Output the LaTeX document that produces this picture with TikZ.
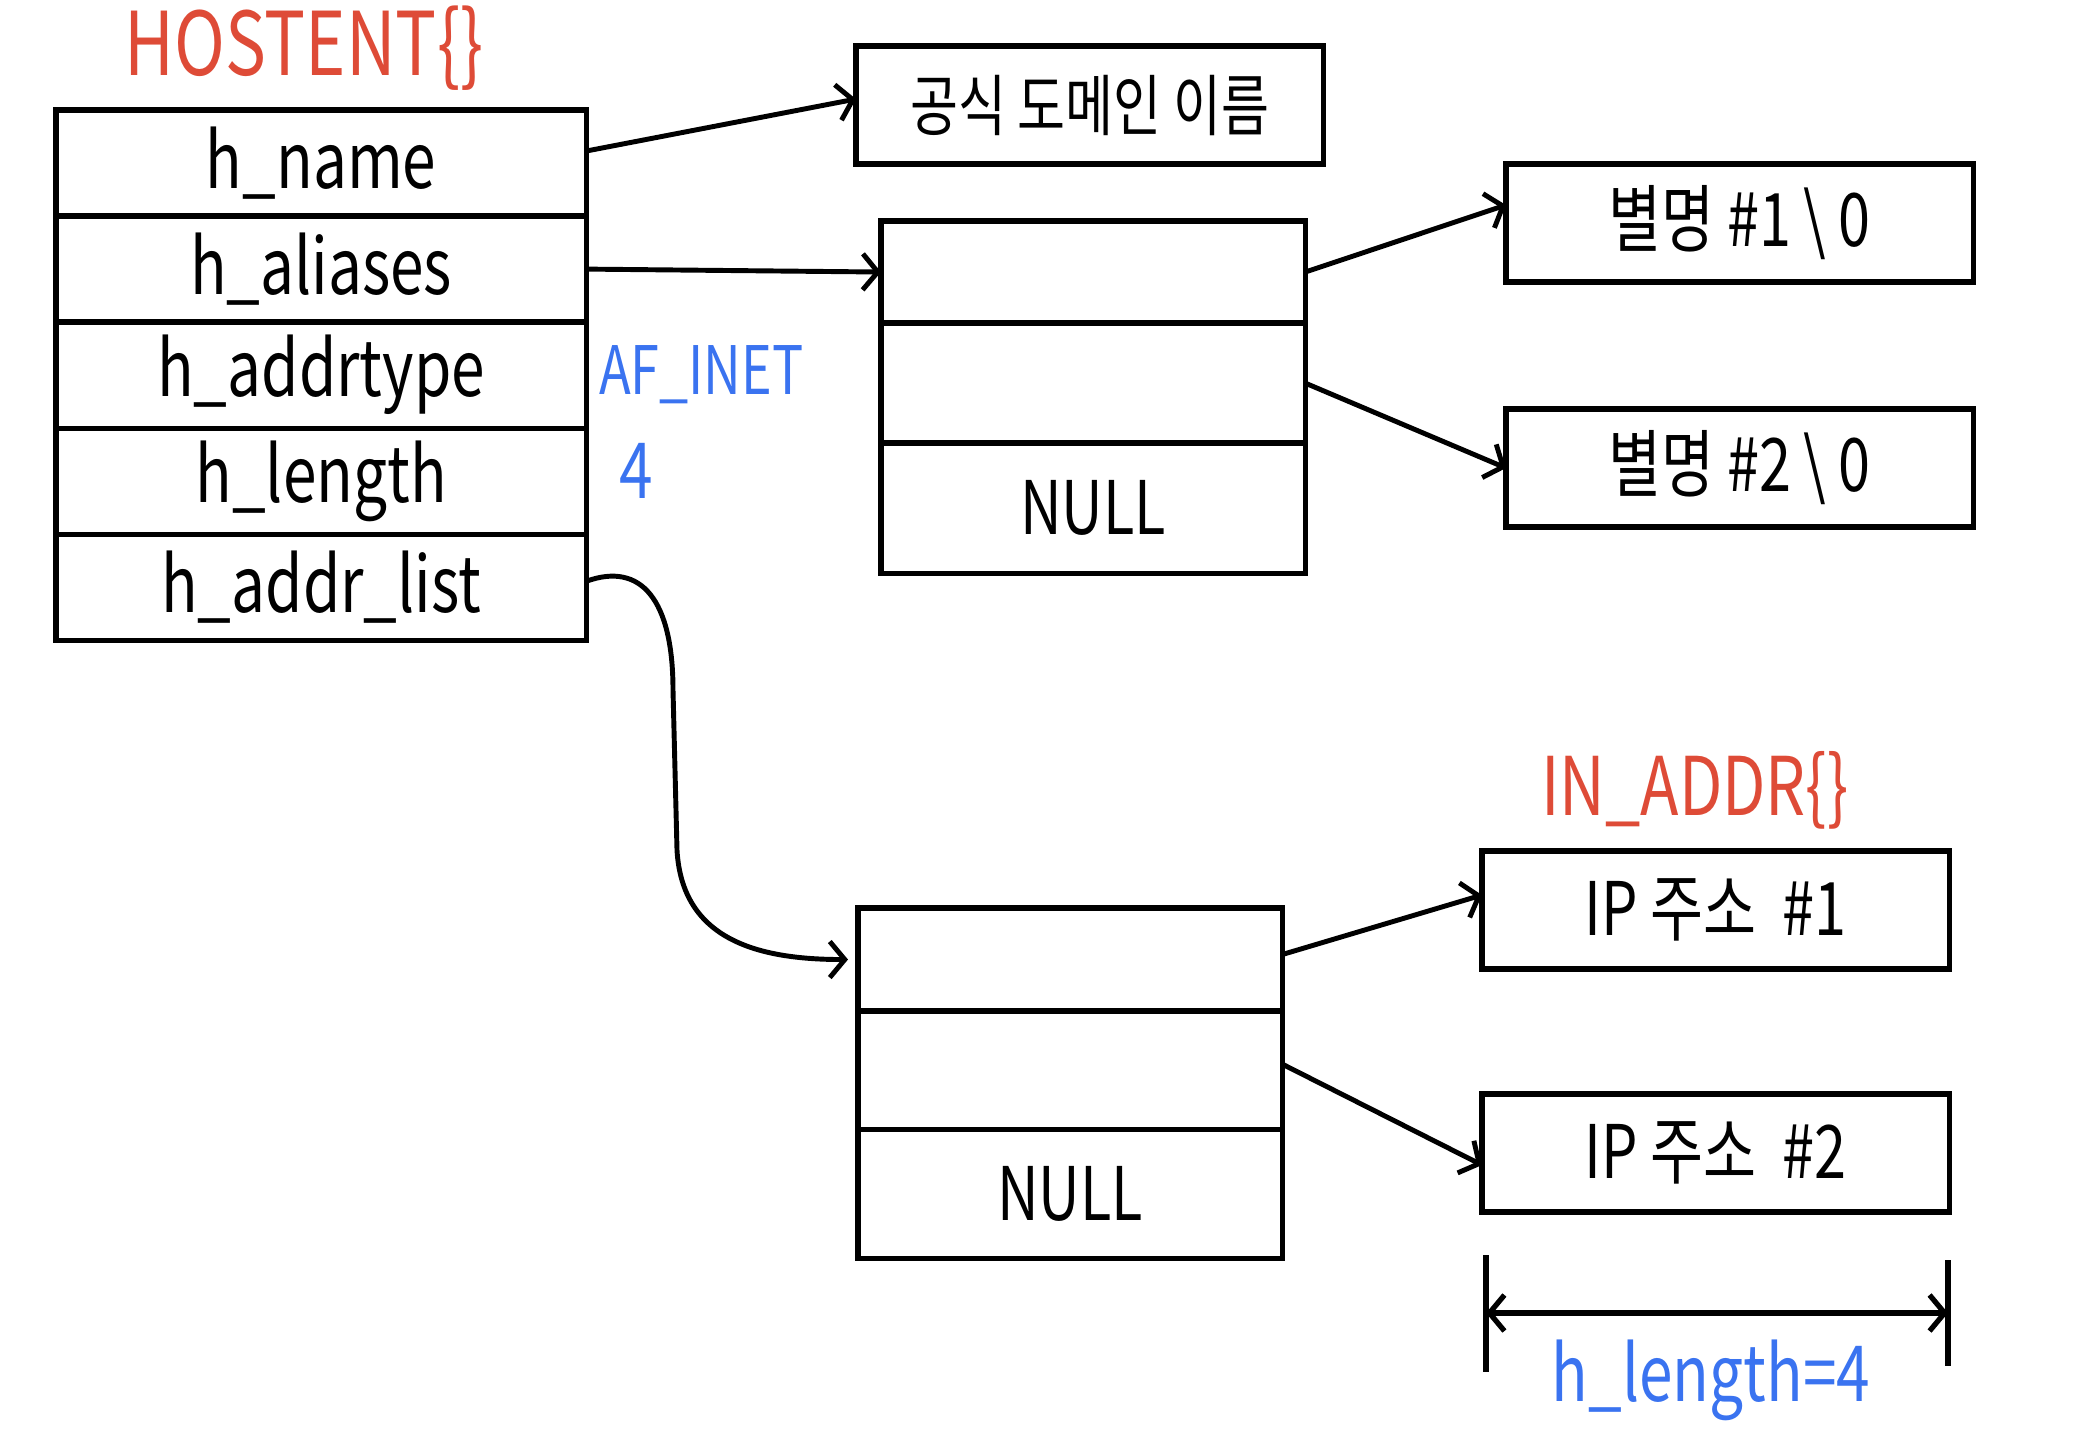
\documentclass[tikz,border=0pt]{standalone}
\usepackage{fontspec}
\setmainfont{Noto Sans CJK KR}[FakeStretch=0.78]
\usetikzlibrary{positioning,arrows.meta}
\definecolor{labelred}{RGB}{222,75,55}
\definecolor{labelblue}{RGB}{58,115,240}
\newcommand{\handsize}[1]{\fontsize{#1}{#1}\selectfont}
\begin{document}
\begin{tikzpicture}[x=0.01cm, y=-0.01cm,
  field/.style={draw, line width=1.5pt, outer sep=0pt, inner sep=0pt,
    minimum width=5.3cm, minimum height=1.06cm, font=\handsize{22}},
  slot/.style={draw, line width=1.5pt, outer sep=0pt, inner sep=0pt,
    minimum width=4.24cm, font=\handsize{21}},
  strbox/.style={draw, line width=1.5pt, outer sep=0pt, inner sep=0pt,
    minimum width=4.67cm, minimum height=1.18cm, font=\handsize{21}},
  redlabel/.style={text=labelred, inner sep=0pt},
  bluelabel/.style={text=labelblue, inner sep=0pt},
  link/.style={line width=1.4pt, -{Straight Barb[length=0.15cm, width=0.36cm]}},
  bar/.style={line width=1.5pt}]
\useasboundingbox (0,0) rectangle (2075,1445);

\node[redlabel, font=\handsize{25}] (hostent) at (304,48) {HOSTENT\{\}};

\node[field, anchor=north west] (hname) at (56,110) {h\_name};
\node[field, below=0pt of hname] (haliases) {h\_aliases};
\node[field, below=0pt of haliases] (haddrtype) {h\_addrtype};
\node[field, below=0pt of haddrtype] (hlength) {h\_length};
\node[field, below=0pt of hlength] (haddrlist) {h\_addr\_list};

\node[bluelabel, font=\handsize{19}, right=0.12cm of haddrtype] (afinet) {AF\_INET};
\node[bluelabel, font=\handsize{22}, right=0.32cm of hlength, yshift=0.1cm] (lenfour) {4};

\node[strbox, font=\handsize{19}, anchor=north west] (official) at (856,46) {공식 도메인 이름};

\node[slot, minimum height=1.02cm, anchor=north west] (aliasone) at (881,221) {};
\node[slot, minimum height=1.2cm, below=0pt of aliasone] (aliastwo) {};
\node[slot, minimum height=1.3cm, below=0pt of aliastwo] (aliasnull) {NULL};

\node[strbox, anchor=north west] (nameone) at (1506,164) {별명 \#1\,\textbackslash\,0};
\node[strbox, anchor=north west] (nametwo) at (1506,409) {별명 \#2\,\textbackslash\,0};

\node[slot, minimum height=1.03cm, anchor=north west] (addrone) at (858,908) {};
\node[slot, minimum height=1.18cm, below=0pt of addrone] (addrtwo) {};
\node[slot, minimum height=1.29cm, below=0pt of addrtwo] (addrnull) {NULL};

\node[redlabel, font=\handsize{23}] (inaddr) at (1695,790) {IN\_ADDR\{\}};
\node[strbox, anchor=north west] (ipone) at (1482,851) {IP 주소 \ \#1};
\node[strbox, anchor=north west] (iptwo) at (1482,1094) {IP 주소 \ \#2};

\draw[link] ([yshift=0.12cm]hname.east) -- ([yshift=0.06cm]official.west);
\draw[link] (haliases.east) -- (aliasone.west);
\draw[link] (aliasone.east) -- ([yshift=0.18cm]nameone.west);
\draw[link] (aliastwo.east) -- (nametwo.west);
\coordinate (bendtop) at (673,690);
\coordinate (bendlow) at (677,850);
\draw[link] ([yshift=0.06cm]haddrlist.east) .. controls +(55,-20) and +(0,-90) .. (bendtop)
  -- (bendlow) .. controls +(5,90) and +(-90,0) .. ([xshift=-0.1cm]addrone.west);
\draw[link] ([yshift=0.05cm]addrone.east) -- ([yshift=0.15cm]ipone.west);
\draw[link] ([yshift=0.06cm]addrtwo.east) -- ([yshift=-0.12cm]iptwo.west);

\coordinate (lenleft) at (1486,1313);
\coordinate (lenright) at (1948,1313);
\draw[bar] (1486,1255) -- (1486,1372);
\draw[bar] (1948,1260) -- (1948,1366);
\draw[line width=1.5pt, {Straight Barb[length=0.15cm, width=0.36cm]}-{Straight Barb[length=0.15cm, width=0.36cm]}] (lenleft) -- (lenright);
\node[bluelabel, font=\handsize{22}] (lenlabel) at (1711,1380) {h\_length=4};

\end{tikzpicture}
\end{document}
